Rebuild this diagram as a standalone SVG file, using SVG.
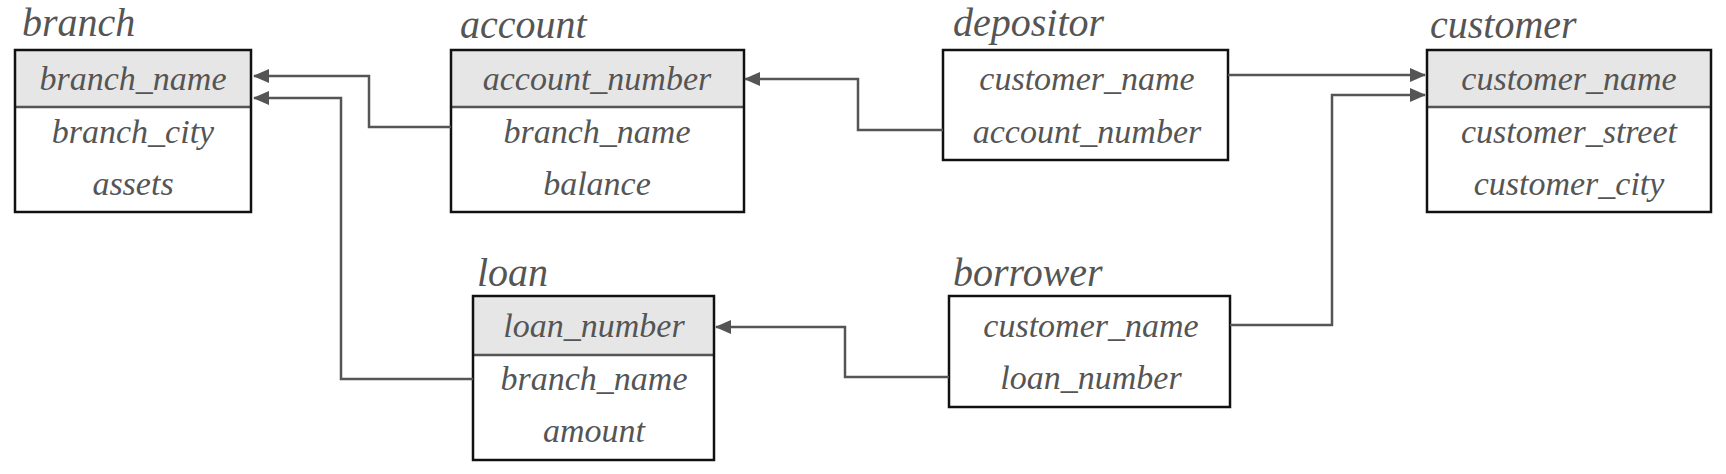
<svg xmlns="http://www.w3.org/2000/svg" width="1726" height="474" viewBox="0 0 1726 474">
<style>
.box{fill:#fff;stroke:#111;stroke-width:2.5}
.hdr{fill:#e6e6e6}
.div{stroke:#555;stroke-width:2.5}
text{font-family:"Liberation Serif","DejaVu Serif",serif;font-style:italic;fill:#555}
.f{font-size:34px;text-anchor:middle;dominant-baseline:central}
.t{font-size:40px}
.c{fill:none;stroke:#555;stroke-width:2.5}
</style>
<defs><marker id="a" markerWidth="16" markerHeight="14" refX="15" refY="7" orient="auto" markerUnits="userSpaceOnUse"><path d="M0,0L16,7L0,14Z" fill="#555"/></marker></defs>
<rect width="1726" height="474" fill="#fff"/>
<g id="branch">
<text class="t" x="22" y="36">branch</text>
<rect class="hdr" x="15" y="50" width="236" height="57"/><line class="div" x1="15" y1="107" x2="251" y2="107"/>
<rect class="box" x="15" y="50" width="236" height="162" fill="none" style="fill:none"/>
<text class="f" x="133" y="78">branch_name</text><text class="f" x="133" y="131">branch_city</text><text class="f" x="133" y="183">assets</text>
</g>
<g id="account">
<text class="t" x="460" y="38">account</text>
<rect class="hdr" x="451" y="50" width="293" height="57"/><line class="div" x1="451" y1="107" x2="744" y2="107"/>
<rect class="box" x="451" y="50" width="293" height="162" style="fill:none"/>
<text class="f" x="597" y="78">account_number</text><text class="f" x="597" y="131">branch_name</text><text class="f" x="597" y="183">balance</text>
</g>
<g id="depositor">
<text class="t" x="953" y="36">depositor</text>
<rect class="box" x="943" y="50" width="285" height="110"/>
<text class="f" x="1087" y="78">customer_name</text><text class="f" x="1087" y="131">account_number</text>
</g>
<g id="customer">
<text class="t" x="1430" y="38">customer</text>
<rect class="hdr" x="1427" y="50" width="284" height="57"/><line class="div" x1="1427" y1="107" x2="1711" y2="107"/>
<rect class="box" x="1427" y="50" width="284" height="162" style="fill:none"/>
<text class="f" x="1569" y="78">customer_name</text><text class="f" x="1569" y="131">customer_street</text><text class="f" x="1569" y="183">customer_city</text>
</g>
<g id="loan">
<text class="t" x="477" y="286">loan</text>
<rect class="hdr" x="473" y="296" width="241" height="59"/><line class="div" x1="473" y1="355" x2="714" y2="355"/>
<rect class="box" x="473" y="296" width="241" height="164" style="fill:none"/>
<text class="f" x="594" y="325">loan_number</text><text class="f" x="594" y="378">branch_name</text><text class="f" x="594" y="430">amount</text>
</g>
<g id="borrower">
<text class="t" x="953" y="286">borrower</text>
<rect class="box" x="949" y="296" width="281" height="111"/>
<text class="f" x="1091" y="325">customer_name</text><text class="f" x="1091" y="377">loan_number</text>
</g>
<g id="connectors">
<polyline class="c" points="451,127 369,127 369,76 254,76" marker-end="url(#a)"/>
<polyline class="c" points="473,379 341,379 341,98 254,98" marker-end="url(#a)"/>
<polyline class="c" points="943,130 858,130 858,79 745,79" marker-end="url(#a)"/>
<polyline class="c" points="1228,75 1425,75" marker-end="url(#a)"/>
<polyline class="c" points="1230,325 1332,325 1332,95 1425,95" marker-end="url(#a)"/>
<polyline class="c" points="949,377 845,377 845,327 716,327" marker-end="url(#a)"/>
</g>
</svg>
